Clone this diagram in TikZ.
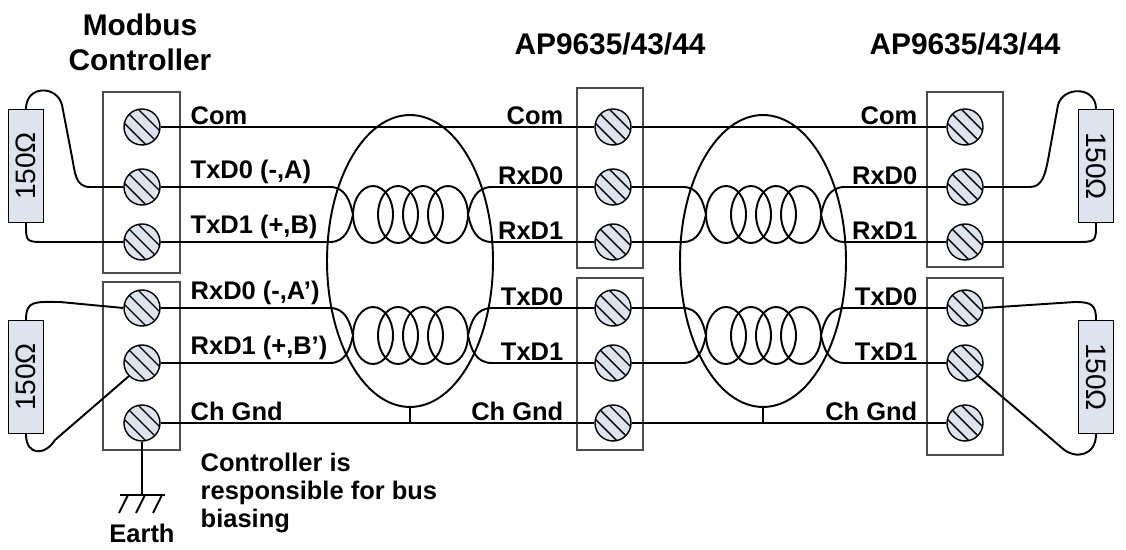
\documentclass[tikz,border=0pt]{standalone}
\usepackage{fontspec}
\setmainfont{Liberation Sans}
\definecolor{termfill}{HTML}{DDE4EE}
\tikzset{
  term/.style={circle,draw,thick,fill=termfill,minimum size=0.72cm,inner sep=0pt,
    path picture={\foreach \s in {-0.14,0,0.14}
      \draw[thick] ([shift={(\s cm-0.5cm,\s cm+0.5cm)}]path picture bounding box.center) -- ++(1cm,-1cm);}},
  box/.style={draw=black!70,thick},
  res/.style={draw,thick,fill=termfill,minimum width=2.26cm,minimum height=0.7cm,inner sep=0pt,font=\fontsize{16}{18}\selectfont},
  lbl/.style={font=\bfseries\fontsize{14.5}{16}\selectfont,inner sep=1pt},
  ttl/.style={font=\bfseries\fontsize{17}{20}\selectfont,align=center}
}
\newcommand\twistpair[7]{%
  \pgfmathsetmacro\ym{(#2+#3)/2}
  \draw (#4.east) -- ({#1-80},#2) .. controls ({#1-65},#2) and ({#1-60},{\ym-14}) .. ({#1-57},\ym);
  \draw (#5.east) -- ({#1-80},#3) .. controls ({#1-65},#3) and ({#1-60},{\ym+14}) .. ({#1-57},\ym);
  \foreach \k in {0,...,3}
    \draw ({#1-37+25*\k},\ym) ellipse [x radius=0.4cm, y radius=0.57cm];
  \draw ({#1+58},\ym) .. controls ({#1+61},{\ym-14}) and ({#1+66},#2) .. ({#1+82},#2) -- (#6.west);
  \draw ({#1+58},\ym) .. controls ({#1+61},{\ym+14}) and ({#1+66},#3) .. ({#1+82},#3) -- (#7.west);
}
\begin{document}
\begin{tikzpicture}[x=0.02cm,y=-0.02cm,line width=1.1pt]
\useasboundingbox (0,0) rectangle (1126,550);
% boxes
\draw[box] (103,92) rectangle (180,273);
\draw[box] (103,282) rectangle (180,450);
\draw[box] (577,88) rectangle (643,268);
\draw[box] (577,278) rectangle (643,450);
\draw[box] (927,92) rectangle (1003,267);
\draw[box] (927,278) rectangle (1003,455);
% terminals
\foreach \n/\y in {1/127,2/187,3/242,4/308,5/363,6/423}{
  \node[term] (L\n) at (142,\y) {};
  \node[term] (M\n) at (613,\y) {};
  \node[term] (R\n) at (965,\y) {};
}
% resistors
\node[res,rotate=90] (RL1) at (26,166) {150Ω};
\node[res,rotate=90] (RL2) at (26,377) {150Ω};
\node[res,rotate=-90] (RR1) at (1096,166) {150Ω};
\node[res,rotate=-90] (RR2) at (1096,377) {150Ω};
% cables
\draw (410,261) ellipse [x radius=1.66cm, y radius=2.92cm];
\draw (763,261) ellipse [x radius=1.66cm, y radius=2.92cm];
\draw (410,407) -- (410,423);
\draw (763,407) -- (763,423);
\draw (L1.east) -- (M1.west) (M1.east) -- (R1.west);
\draw (L6.east) -- (M6.west) (M6.east) -- (R6.west);
\twistpair{410}{187}{242}{L2}{L3}{M2}{M3}
\twistpair{410}{308}{363}{L4}{L5}{M4}{M5}
\twistpair{763}{187}{242}{M2}{M3}{R2}{R3}
\twistpair{763}{308}{363}{M4}{M5}{R4}{R5}
% terminations
\draw (L2.west) -- (90,187) .. controls (75,187) and (75,172) .. (72,157) -- (62,105) .. controls (57,85) and (26,85) .. (RL1.east);
\draw (RL1.west) .. controls (26,242) and (26,242) .. (45,242) -- (L3.west);
\draw (RL2.east) .. controls (26,300) and (35,302) .. (60,302) -- (L4.west);
\draw (RL2.west) .. controls (26,456) and (45,456) .. (55,440) -- (L5.south west);
\draw (R2.east) -- (1030,187) .. controls (1042,187) and (1045,175) .. (1048,160) -- (1058,105) .. controls (1063,86) and (1096,86) .. (RR1.west);
\draw (R3.east) -- (1075,242) .. controls (1096,242) and (1096,242) .. (RR1.east);
\draw (R4.east) -- (1075,302) .. controls (1092,302) and (1096,305) .. (RR2.west);
\draw (R5.south east) -- (1062,448) .. controls (1075,460) and (1096,456) .. (RR2.east);
% earth
\coordinate (gnd) at (142,495);
\draw (L6.south) -- (gnd);
\draw (120,495) -- (165,495);
\foreach \x in {128,145,162} \draw (\x,495) -- ++(-9,18);
\node[lbl] at (142,533) {Earth};
% labels
\foreach \t/\y in {Com/127,TxD0 (-{,}A)/187,TxD1 (+{,}B)/242,RxD0 (-{,}A’)/308,RxD1 (+{,}B’)/363,Ch Gnd/423}
  \node[lbl,anchor=south west] at (188,\y) {\t};
\foreach \t/\y in {Com/127,RxD0/187,RxD1/242,TxD0/308,TxD1/363,Ch Gnd/423}{
  \node[lbl,anchor=south east] at (566,\y) {\t};
  \node[lbl,anchor=south east] at (920,\y) {\t};
}
\node[lbl,anchor=north west,align=left] at (198,450) {Controller is\\responsible for bus\\biasing};
\node[ttl] at (140,42) {Modbus\\Controller};
\node[ttl] at (610,44) {AP9635/43/44};
\node[ttl] at (965,44) {AP9635/43/44};
\end{tikzpicture}
\end{document}
